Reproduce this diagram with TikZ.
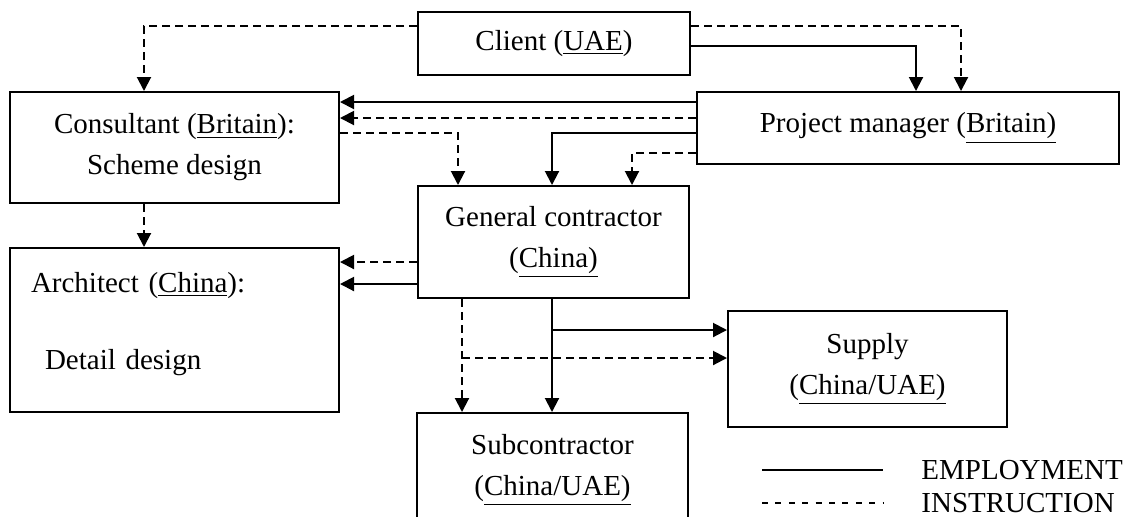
\documentclass[tikz,border=0pt]{standalone}
\usepackage{fontspec}
\setmainfont{Liberation Serif}
\usetikzlibrary{arrows.meta}

\begin{document}
\begin{tikzpicture}[x=0.5pt, y=-0.5pt,
	box/.style={draw, line width=1pt, inner sep=0pt, align=center,
		font=\fontsize{14.5pt}{20.5pt}\selectfont},
	employ/.style={line width=1pt, -{Triangle[length=7pt,width=7pt]}},
	instr/.style={employ, dash pattern=on 4pt off 2.5pt},
	legtext/.style={anchor=west, inner sep=0pt, font=\fontsize{14.5pt}{17pt}\selectfont}]
	\useasboundingbox (0,0) rectangle (1127,516);
	
	% ==================== 方框 ====================
	\node[box, minimum width=136pt, minimum height=31.5pt] (client) at (554,43.5) {Client (\underline{UAE})};
	\node[box, minimum width=164.5pt, minimum height=55.5pt] (consultant) at (174.5,147.5) {Consultant (\underline{Britain}):\\Scheme design};
	\node[box, minimum width=211pt, minimum height=36pt] (pm) at (908,128) {Project manager (\underline{Britain)}};
	\node[box, minimum width=135.5pt, minimum height=56pt] (gc) at (553.5,242) {General contractor\\(\underline{China)}};
	\node[box, minimum width=164.5pt, minimum height=82pt, align=left, inner xsep=10.5pt,
		text width=143.5pt] (architect) at (174.5,330)
		{Architect (\underline{China}):\\[18pt]\hspace*{7pt}Detail design\rule[-9.2pt]{0pt}{0pt}};
	\node[box, minimum width=139.5pt, minimum height=58pt] (supply) at (867.5,369) {Supply\\(\underline{China/UAE)}};
	\node[box, minimum width=135.5pt, minimum height=57pt] (sub) at (552.5,470) {Subcontractor\\(\underline{China/UAE)}};
	
	% ==================== 连线 ====================
	% --- 业主 ---
	\draw[instr] (client.west |- 0,26) -| (consultant.north -| 144,0);
	\draw[employ] (client.east |- 0,46) -| (pm.north -| 916,0);
	\draw[instr] (client.east |- 0,26) -| (pm.north -| 961,0);
	
	% --- 项目经理 ---
	\draw[employ] (pm.west |- 0,102) -- (consultant.east |- 0,102);
	\draw[instr] (pm.west |- 0,118) -- (consultant.east |- 0,118);
	\draw[employ] (pm.west |- 0,133) -| (gc.north -| 552,0);
	\draw[instr] (pm.west |- 0,153) -| (gc.north -| 632,0);
	
	% --- 顾问 ---
	\draw[instr] (consultant.east |- 0,133) -| (gc.north -| 458,0);
	\draw[instr] (consultant.south -| 144,0) -- (architect.north -| 144,0);
	
	% --- 总承包商 ---
	\draw[instr] (gc.west |- 0,262) -- (architect.east |- 0,262);
	\draw[employ] (gc.west |- 0,284) -- (architect.east |- 0,284);
	\draw[instr] (gc.south -| 462,0) -- (sub.north -| 462,0);
	\draw[employ] (gc.south -| 552,0) -- (sub.north -| 552,0);
	
	% 分支到供应商
	\coordinate (empsplit) at (552,330);
	\coordinate (instsplit) at (462,358);
	\draw[employ] (empsplit) -- (supply.west |- empsplit);
	\draw[instr] (instsplit) -- (supply.west |- instsplit);
	
	% ==================== 图例 ====================
	\node[legtext] (legemp) at (921,470) {EMPLOYMENT};
	\node[legtext] (leginstr) at (921,503) {INSTRUCTION};
	\draw[line width=1pt] (762,470) -- (883,470);
	\draw[line width=1pt, dash pattern=on 3pt off 3.7pt] (762,503) -- (883,503);
\end{tikzpicture}
\end{document}
